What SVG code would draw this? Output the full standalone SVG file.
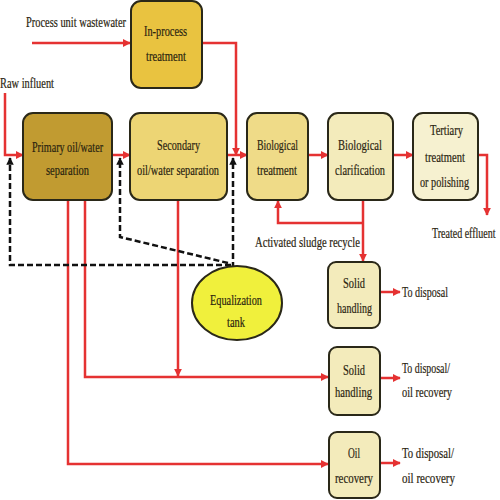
<svg xmlns="http://www.w3.org/2000/svg" width="500" height="500" viewBox="0 0 500 500">
<defs>
<marker id="ar" viewBox="0 0 10 10" refX="9" refY="5" markerWidth="3.2" markerHeight="3.2" orient="auto" markerUnits="strokeWidth"><path d="M0,0 L10,5 L0,10 z" fill="#e53232"/></marker>
<marker id="ak" viewBox="0 0 10 10" refX="9" refY="5" markerWidth="3" markerHeight="3" orient="auto" markerUnits="strokeWidth"><path d="M0,0 L10,5 L0,10 z" fill="#111"/></marker>
</defs>
<style>
text{font-family:"Liberation Serif","Times New Roman",serif;font-size:15px;fill:#2a2410;stroke:#2a2410;stroke-width:0.2}
.box{stroke:#2a2818;stroke-width:2}
.r{fill:none;stroke:#e53232;stroke-width:2.5}
.ra{fill:none;stroke:#e53232;stroke-width:2.5;marker-end:url(#ar)}
.d{fill:none;stroke:#111;stroke-width:2.5;stroke-dasharray:6 3}
.da{fill:none;stroke:#111;stroke-width:2.5;stroke-dasharray:6 3;marker-end:url(#ak)}
</style>
<rect width="500" height="500" fill="#fff"/>
<g id="connectors">
<path class="ra" d="M32,43 H130"/>
<path class="ra" d="M5,93 V155 H23"/>
<path class="ra" d="M112,155 H130"/>
<path class="ra" d="M227,155 H247"/>
<path class="ra" d="M202,43 H236 V155"/>
<path class="ra" d="M308,155 H328"/>
<path class="ra" d="M393,155 H413"/>
<path class="ra" d="M478,155 H487 V215"/>
<path class="ra" d="M363,200 V261"/>
<path class="ra" d="M363,223 H278 V201"/>
<path class="ra" d="M380,292 H400"/>
<path class="ra" d="M68,200 V464 H328"/>
<path class="ra" d="M85,200 V377 H328"/>
<path class="ra" d="M178,200 V376"/>
<path class="ra" d="M380,378 H400"/>
<path class="ra" d="M380,463 H400"/>
<path class="da" d="M231,265 H10 V158"/>
<path class="da" d="M228,263 L120,237 V158"/>
<path class="da" d="M233,268 V158"/>
</g>
<g id="text-labels">
<text transform="translate(26,27) scale(0.694,1)">Process unit wastewater</text>
<text x="0" y="88" textLength="54" lengthAdjust="spacingAndGlyphs">Raw influent</text>
<text transform="translate(432,238) scale(0.667,1)">Treated effluent</text>
<text x="255" y="247" textLength="105" lengthAdjust="spacingAndGlyphs">Activated sludge recycle</text>
<text x="402" y="297" textLength="46" lengthAdjust="spacingAndGlyphs">To disposal</text>
<text x="402" y="373" textLength="48" lengthAdjust="spacingAndGlyphs">To disposal/</text>
<text x="402" y="397" textLength="50" lengthAdjust="spacingAndGlyphs">oil recovery</text>
<text x="402" y="458" textLength="52" lengthAdjust="spacingAndGlyphs">To disposal/</text>
<text x="402" y="483" textLength="53" lengthAdjust="spacingAndGlyphs">oil recovery</text>
</g>
<g id="in-process">
<rect class="box" x="131" y="1" width="71" height="87" rx="10" fill="#e9c340"/>
<text x="144" y="36" textLength="43" lengthAdjust="spacingAndGlyphs">In-process</text>
<text x="146" y="61" textLength="40" lengthAdjust="spacingAndGlyphs">treatment</text>
</g>
<g id="primary">
<rect class="box" x="23" y="113" width="89" height="87" rx="10" fill="#c19b31"/>
<text x="32" y="152" textLength="71" lengthAdjust="spacingAndGlyphs">Primary oil/water</text>
<text x="46" y="175" textLength="43" lengthAdjust="spacingAndGlyphs">separation</text>
</g>
<g id="secondary">
<rect class="box" x="130" y="113" width="97" height="87" rx="10" fill="#edd574"/>
<text x="157" y="150" textLength="43" lengthAdjust="spacingAndGlyphs">Secondary</text>
<text x="137" y="175" textLength="82" lengthAdjust="spacingAndGlyphs">oil/water separation</text>
</g>
<g id="bio-treatment">
<rect class="box" x="247" y="113" width="61" height="87" rx="10" fill="#efdb88"/>
<text x="257" y="150" textLength="41" lengthAdjust="spacingAndGlyphs">Biological</text>
<text x="257" y="175" textLength="40" lengthAdjust="spacingAndGlyphs">treatment</text>
</g>
<g id="bio-clarification">
<rect class="box" x="328" y="113" width="65" height="87" rx="10" fill="#f3ebbb"/>
<text x="338" y="150" textLength="44" lengthAdjust="spacingAndGlyphs">Biological</text>
<text x="335" y="175" textLength="50" lengthAdjust="spacingAndGlyphs">clarification</text>
</g>
<g id="tertiary">
<rect class="box" x="413" y="113" width="65" height="87" rx="10" fill="#f6f1d0"/>
<text x="430" y="135" textLength="33" lengthAdjust="spacingAndGlyphs">Tertiary</text>
<text x="425" y="162" textLength="40" lengthAdjust="spacingAndGlyphs">treatment</text>
<text x="420" y="187" textLength="49" lengthAdjust="spacingAndGlyphs">or polishing</text>
</g>
<g id="equalization">
<ellipse class="box" cx="237" cy="303" rx="45" ry="37" fill="#f0f03c"/>
<text x="210" y="305" textLength="52" lengthAdjust="spacingAndGlyphs">Equalization</text>
<text x="227" y="327" textLength="18" lengthAdjust="spacingAndGlyphs">tank</text>
</g>
<g id="solid-handling-1">
<rect class="box" x="328" y="262" width="52" height="66" rx="8" fill="#f3ebbb"/>
<text x="343" y="288" textLength="22" lengthAdjust="spacingAndGlyphs">Solid</text>
<text x="337" y="313" textLength="35" lengthAdjust="spacingAndGlyphs">handling</text>
</g>
<g id="solid-handling-2">
<rect class="box" x="329" y="347" width="51" height="68" rx="8" fill="#f3ebbb"/>
<text x="343" y="375" textLength="22" lengthAdjust="spacingAndGlyphs">Solid</text>
<text x="335" y="397" textLength="37" lengthAdjust="spacingAndGlyphs">handling</text>
</g>
<g id="oil-recovery">
<rect class="box" x="329" y="432" width="51" height="66" rx="8" fill="#f3ebbb"/>
<text x="348" y="458" textLength="12" lengthAdjust="spacingAndGlyphs">Oil</text>
<text x="335" y="483" textLength="38" lengthAdjust="spacingAndGlyphs">recovery</text>
</g>
</svg>
